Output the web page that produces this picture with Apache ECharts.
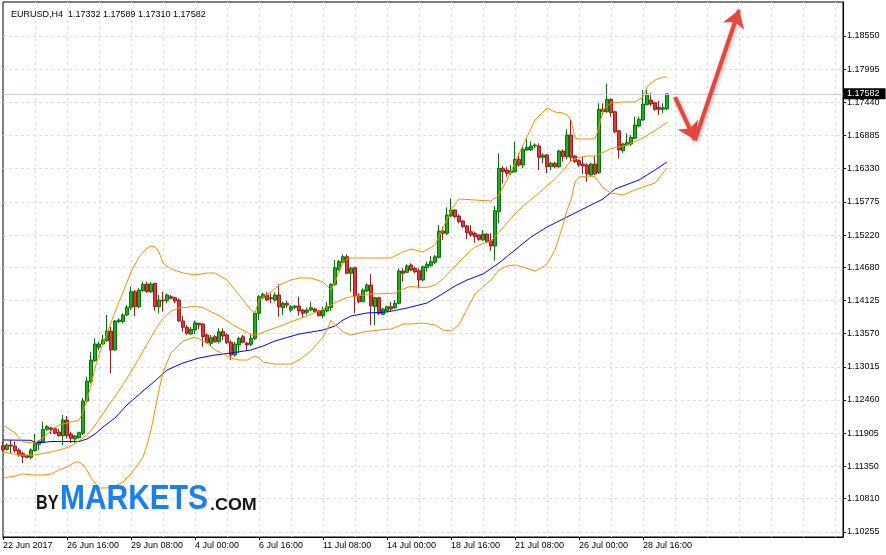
<!DOCTYPE html>
<html>
<head>
<meta charset="utf-8">
<script src="https://cdn.jsdelivr.net/npm/echarts@6/dist/echarts.min.js"></script>
<style>
html,body{margin:0;padding:0;background:#fff;}
#chart{width:886px;height:555px;}
</style>
</head>
<body>
<div id="chart"></div>
<script>
// ---------- data ----------
const symbolName = 'EURUSD,H4';
const xTickLabels = ['22 Jun 2017','26 Jun 16:00','29 Jun 08:00','4 Jul 00:00','6 Jul 16:00','11 Jul 08:00','14 Jul 00:00','18 Jul 16:00','21 Jul 08:00','26 Jul 00:00','28 Jul 16:00'];
const yTickLabels = ['1.10255','1.10810','1.11350','1.11905','1.12460','1.13015','1.13570','1.14125','1.14680','1.15220','1.15775','1.16330','1.16885','1.17440','1.17995','1.18550'];

const openP = [1.11695,1.11635,1.11707,1.11690,1.11624,1.11562,1.11528,1.11501,1.11612,1.11719,
1.11762,1.11970,1.11992,1.11980,1.11925,1.11863,1.12125,1.11891,1.11808,1.11829,
1.11903,1.12443,1.12766,1.13118,1.13342,1.13397,1.13452,1.13614,1.13297,1.13770,
1.13770,1.13882,1.14011,1.14272,1.14021,1.14289,1.14401,1.14272,1.14412,1.14021,
1.14133,1.14121,1.14188,1.14172,1.14133,1.13782,1.13676,1.13564,1.13631,1.13743,
1.13732,1.13548,1.13409,1.13519,1.13435,1.13603,1.13548,1.13425,1.13213,1.13380,
1.13519,1.13409,1.13392,1.13492,1.13911,1.14178,1.14217,1.14172,1.14133,1.14217,
1.14004,1.14078,1.13966,1.14011,1.14033,1.13966,1.13927,1.13966,1.13982,1.13954,
1.13870,1.13949,1.14004,1.14396,1.14647,1.14764,1.14857,1.14580,1.14673,1.14217,
1.14105,1.14284,1.14384,1.14021,1.14172,1.13894,1.13949,1.14021,1.14004,1.14078,
1.14618,1.14596,1.14719,1.14663,1.14623,1.14468,1.14673,1.14707,1.14763,1.14847,
1.15287,1.15249,1.15538,1.15639,1.15538,1.15455,1.15371,1.15276,1.15249,1.15221,
1.15137,1.15237,1.15125,1.15036,1.15610,1.16336,1.16308,1.16263,1.16280,1.16487,
1.16392,1.16643,1.16643,1.16709,1.16709,1.16520,1.16559,1.16363,1.16420,1.16363,
1.16626,1.16530,1.16894,1.16542,1.16464,1.16408,1.16392,1.16224,1.16408,1.16263,
1.17323,1.17283,1.17491,1.17283,1.16965,1.16631,1.16726,1.16743,1.16838,1.17044,
1.17144,1.17400,1.17479,1.17434,1.17357,1.17323,1.17332];

const closeP = [1.11624,1.11707,1.11690,1.11612,1.11540,1.11511,1.11501,1.11624,1.11736,1.11774,
1.11970,1.12013,1.11970,1.11903,1.11863,1.12125,1.11863,1.11819,1.11858,1.11913,
1.12443,1.12778,1.13129,1.13397,1.13397,1.13464,1.13614,1.13297,1.13782,1.13798,
1.13882,1.14011,1.14272,1.14021,1.14300,1.14396,1.14272,1.14401,1.14021,1.14133,
1.14116,1.14217,1.14161,1.14116,1.13782,1.13676,1.13576,1.13643,1.13753,1.13715,
1.13519,1.13419,1.13502,1.13435,1.13603,1.13531,1.13419,1.13213,1.13397,1.13492,
1.13425,1.13380,1.13492,1.13911,1.14188,1.14228,1.14133,1.14155,1.14217,1.14021,
1.14078,1.14049,1.14021,1.14033,1.13949,1.13911,1.13966,1.14004,1.13937,1.13870,
1.13966,1.14021,1.14396,1.14673,1.14774,1.14857,1.14580,1.14663,1.14200,1.14105,
1.14300,1.14384,1.14038,1.14172,1.13911,1.13982,1.14021,1.13982,1.14078,1.14618,
1.14580,1.14702,1.14635,1.14607,1.14468,1.14690,1.14730,1.14774,1.14857,1.15287,
1.15249,1.15555,1.15639,1.15527,1.15443,1.15359,1.15259,1.15221,1.15192,1.15149,
1.15237,1.15108,1.15036,1.15627,1.16336,1.16280,1.16253,1.16296,1.16487,1.16392,
1.16654,1.16688,1.16709,1.16726,1.16520,1.16559,1.16363,1.16420,1.16363,1.16626,
1.16530,1.16894,1.16520,1.16447,1.16392,1.16375,1.16241,1.16408,1.16241,1.17323,
1.17283,1.17491,1.17267,1.16949,1.16643,1.16743,1.16765,1.16855,1.17061,1.17156,
1.17412,1.17579,1.17412,1.17323,1.17323,1.17350,1.17582];

const highP = [1.11762,1.11736,1.11791,1.11762,1.11652,1.11595,1.11540,1.11652,1.11891,1.11791,
1.12097,1.12042,1.12013,1.12003,1.11980,1.12209,1.12192,1.11930,1.11874,1.11930,
1.12493,1.12850,1.13268,1.13492,1.13435,1.13548,1.13882,1.13686,1.13798,1.13827,
1.13911,1.14049,1.14356,1.14300,1.14329,1.14439,1.14439,1.14434,1.14422,1.14217,
1.14272,1.14245,1.14217,1.14188,1.14161,1.13865,1.13715,1.13686,1.13787,1.13753,
1.13743,1.13576,1.13548,1.13548,1.13660,1.13660,1.13576,1.13464,1.13435,1.13519,
1.13548,1.13435,1.13548,1.13937,1.14217,1.14255,1.14262,1.14245,1.14262,1.14396,
1.14105,1.14116,1.14049,1.14049,1.14188,1.13982,1.14004,1.14105,1.14004,1.13966,
1.14021,1.14105,1.14412,1.14802,1.14802,1.14898,1.14898,1.14690,1.14690,1.14245,
1.14329,1.14412,1.14563,1.14188,1.14188,1.14004,1.14038,1.14105,1.14133,1.14663,
1.14663,1.14730,1.14747,1.14690,1.14663,1.14707,1.14774,1.14869,1.14886,1.15388,
1.15359,1.15684,1.15834,1.15650,1.15567,1.15472,1.15388,1.15388,1.15276,1.15232,
1.15304,1.15249,1.15249,1.15706,1.16587,1.16375,1.16363,1.16392,1.16781,1.16587,
1.16698,1.16838,1.16781,1.16755,1.16755,1.16587,1.16576,1.16447,1.16447,1.16643,
1.16654,1.16989,1.17144,1.16559,1.16487,1.16530,1.16420,1.16430,1.16542,1.17424,
1.17424,1.17758,1.17507,1.17300,1.16977,1.16765,1.16922,1.16894,1.17200,1.17200,
1.17646,1.17646,1.17601,1.17451,1.17467,1.17424,1.17589];

const lowP = [1.11595,1.11612,1.11557,1.11578,1.11511,1.11401,1.11485,1.11468,1.11595,1.11624,
1.11746,1.11946,1.11891,1.11891,1.11846,1.11707,1.11819,1.11736,1.11736,1.11819,
1.11874,1.12410,1.12739,1.13101,1.13297,1.13380,1.13435,1.12907,1.13285,1.13743,
1.13743,1.13865,1.13966,1.13865,1.13994,1.14272,1.14255,1.14250,1.13954,1.13911,
1.13937,1.14078,1.14145,1.14078,1.13770,1.13603,1.13548,1.13548,1.13564,1.13648,
1.13352,1.13409,1.13363,1.13419,1.13409,1.13464,1.13397,1.13129,1.13184,1.13241,
1.13409,1.13285,1.13363,1.13464,1.13798,1.14145,1.14116,1.14078,1.14105,1.13854,
1.13882,1.14004,1.13927,1.13982,1.13870,1.13837,1.13882,1.13949,1.13927,1.13860,
1.13827,1.13927,1.13949,1.14372,1.14618,1.14747,1.14563,1.14272,1.13911,1.14078,
1.14095,1.14262,1.13715,1.13715,1.13882,1.13882,1.13927,1.13949,1.13982,1.14061,
1.14439,1.14580,1.14618,1.14580,1.14329,1.14439,1.14607,1.14690,1.14735,1.14831,
1.15137,1.15221,1.15517,1.15500,1.15416,1.15343,1.15149,1.15192,1.15092,1.15125,
1.15125,1.15092,1.14958,1.14791,1.15416,1.16085,1.16196,1.16224,1.16263,1.16363,
1.16336,1.16631,1.16631,1.16671,1.16308,1.16420,1.16253,1.16308,1.16336,1.16336,
1.16447,1.16487,1.16447,1.16430,1.16363,1.16241,1.16112,1.16196,1.16224,1.16241,
1.17228,1.17267,1.17200,1.16922,1.16504,1.16597,1.16709,1.16709,1.16822,1.17022,
1.17133,1.17390,1.17379,1.17300,1.17228,1.17257,1.17310];

// indicator lines: [bar, price]
const upperBand = [[0,1.12042],[3,1.11908],[5,1.11757],[8,1.11741],[10,1.11824],[12,1.11941],[14,1.12042],[17,1.12092],[19,1.12125],[20,1.12259],[21,1.12460],[22,1.12711],[23,1.12995],[24,1.13213],[26,1.13581],[28,1.13932],[30,1.14267],[32,1.14601],[34,1.14852],[36,1.15003],[37,1.15036],[38,1.15020],[39,1.14936],[40,1.14752],[42,1.14652],[45,1.14585],[48,1.14551],[51,1.14585],[53,1.14585],[56,1.14468],[58,1.14300],[60,1.14133],[62,1.13966],[63,1.13916],[64,1.14133],[65,1.14183],[68,1.14317],[69,1.14384],[72,1.14468],[74,1.14501],[77,1.14501],[80,1.14434],[82,1.14300],[83,1.14434],[84,1.14601],[85,1.14769],[86,1.14819],[87,1.14836],[90,1.14836],[94,1.14836],[97,1.14836],[99,1.14903],[100,1.14936],[102,1.14986],[104,1.14953],[105,1.14936],[108,1.15053],[110,1.15338],[112,1.15639],[114,1.15823],[118,1.15806],[122,1.15789],[124,1.15890],[126,1.16141],[128,1.16425],[130,1.16726],[131,1.16860],[133,1.17144],[136,1.17345],[138,1.17278],[140,1.17262],[141,1.17228],[142,1.17144],[143,1.16843],[144,1.16827],[148,1.16827],[149,1.17027],[150,1.17312],[152,1.17429],[155,1.17446],[158,1.17446],[160,1.17529],[161,1.17697],[163,1.17814],[165,1.17864],[166,1.17864]];

const middleBand = [[0,1.11590],[4,1.11540],[8,1.11540],[12,1.11590],[15,1.11640],[17,1.11690],[19,1.11781],[20,1.11821],[22,1.11946],[24,1.12129],[26,1.12333],[28,1.12519],[30,1.12716],[32,1.12930],[34,1.13158],[36,1.13392],[38,1.13629],[40,1.13824],[42,1.13947],[44,1.14003],[46,1.14011],[48,1.14028],[50,1.14004],[52,1.13937],[54,1.13872],[56,1.13787],[58,1.13696],[60,1.13629],[62,1.13554],[64,1.13564],[66,1.13619],[68,1.13668],[70,1.13711],[72,1.13770],[74,1.13817],[76,1.13864],[78,1.13929],[80,1.13976],[82,1.14053],[84,1.14120],[86,1.14173],[88,1.14198],[90,1.14213],[92,1.14232],[94,1.14237],[96,1.14243],[98,1.14248],[100,1.14317],[102,1.14362],[104,1.14344],[106,1.14344],[108,1.14382],[110,1.14488],[112,1.14627],[114,1.14770],[116,1.14903],[118,1.15020],[120,1.15078],[122,1.15120],[124,1.15264],[126,1.15420],[128,1.15577],[130,1.15702],[132,1.15813],[134,1.15927],[136,1.16042],[138,1.16161],[140,1.16298],[142,1.16462],[144,1.16517],[146,1.16542],[148,1.16542],[150,1.16601],[152,1.16668],[154,1.16693],[156,1.16726],[158,1.16785],[160,1.16843],[162,1.16927],[164,1.17011],[166,1.17106]];

const lowerBand = [[0,1.11155],[3,1.11189],[5,1.11222],[8,1.11205],[10,1.11205],[12,1.11222],[14,1.11289],[16,1.11339],[18,1.11423],[19,1.11423],[20,1.11373],[21,1.11289],[22,1.11155],[24,1.10988],[26,1.10988],[28,1.11021],[30,1.11088],[32,1.11222],[34,1.11406],[35,1.11506],[36,1.11707],[37,1.11958],[38,1.12293],[39,1.12627],[40,1.12928],[42,1.13246],[45,1.13447],[48,1.13514],[51,1.13414],[53,1.13297],[55,1.13230],[57,1.13163],[59,1.13129],[61,1.13129],[63,1.13196],[64,1.13163],[65,1.13096],[68,1.13062],[72,1.13062],[74,1.13129],[77,1.13280],[80,1.13514],[81,1.13631],[82,1.13798],[83,1.13715],[84,1.13665],[85,1.13598],[87,1.13547],[90,1.13598],[94,1.13631],[97,1.13648],[99,1.13698],[100,1.13732],[102,1.13732],[105,1.13748],[108,1.13715],[110,1.13631],[112,1.13614],[114,1.13715],[116,1.13982],[118,1.14233],[120,1.14351],[122,1.14468],[124,1.14635],[126,1.14702],[128,1.14719],[130,1.14685],[133,1.14618],[135,1.14685],[136,1.14735],[138,1.14970],[140,1.15388],[141,1.15639],[142,1.15806],[143,1.16107],[144,1.16191],[147,1.16208],[148,1.16191],[149,1.16107],[150,1.16007],[152,1.15923],[155,1.15890],[158,1.15973],[160,1.16024],[163,1.16090],[166,1.16341]];

const movingAvg = [[0,1.11791],[7,1.11786],[8,1.11749],[10,1.11749],[12,1.11766],[19,1.11766],[21,1.11808],[23,1.11891],[25,1.12008],[28,1.12159],[31,1.12376],[33,1.12493],[35,1.12611],[38,1.12778],[41,1.12962],[45,1.13079],[49,1.13163],[53,1.13213],[57,1.13246],[62,1.13297],[65,1.13363],[68,1.13447],[74,1.13564],[80,1.13631],[83,1.13698],[85,1.13798],[87,1.13865],[91,1.13916],[96,1.13932],[101,1.13999],[106,1.14083],[109,1.14200],[113,1.14367],[116,1.14468],[120,1.14568],[124,1.14752],[128,1.14970],[132,1.15187],[136,1.15354],[141,1.15522],[146,1.15689],[150,1.15823],[153,1.15990],[159,1.16141],[163,1.16308],[166,1.16442]];

// hand-drawn forecast arrows: [bar, price] start/end
const arrowDown = [[168, 1.17529], [173, 1.16810]];
const arrowUp = [[173, 1.16810], [184, 1.18985]];

// ---------- chart ----------
const slots = 211;          // bar slots across the plot (incl. empty right margin)
const barsPerLabel = 16;
const cats = Array.from({length: slots}, (_, i) => String(i));
const last = openP.length - 1;
const candles = openP.map((o, i) => [o, closeP[i], lowP[i], highP[i]]);
const yTicks = yTickLabels.map(Number);
const FONT = '"Liberation Sans", Arial, sans-serif';
const gridCol = '#d9d9ef';

const chart = echarts.init(document.getElementById('chart'), null, {renderer: 'canvas'});
const bandLine = (name, data, color) => ({
  name, type: 'line', data, showSymbol: false, symbol: 'none', silent: true,
  lineStyle: {color, width: 1}, z: 4, animation: false
});
const arrowStyle = {color: '#e5473e', width: 4, type: 'solid', shadowBlur: 4, shadowColor: 'rgba(0,0,0,0.35)', shadowOffsetX: 1, shadowOffsetY: 1};

chart.setOption({
  animation: false,
  backgroundColor: '#ffffff',
  title: {
    text: symbolName + '  ' + [openP[last], highP[last], lowP[last], closeP[last]].map(v => v.toFixed(5)).join(' '),
    left: 6, top: 5,
    textStyle: {fontSize: 9, fontWeight: 'normal', color: '#000', fontFamily: FONT}
  },
  grid: {left: 2, right: 43, top: 2, bottom: 18, show: true, borderColor: '#000', borderWidth: 1, backgroundColor: '#fff'},
  xAxis: {
    type: 'category', data: cats, boundaryGap: false,
    axisLine: {show: true, lineStyle: {color: '#000', width: 1}},
    axisTick: {show: true, length: 3, lineStyle: {color: '#000'},
      interval: (idx) => idx % barsPerLabel === 0 && idx / barsPerLabel < xTickLabels.length},
    axisLabel: {
      interval: (idx) => idx % barsPerLabel === 0 && idx / barsPerLabel < xTickLabels.length,
      formatter: (v, idx) => xTickLabels[Number(v) / barsPerLabel] || '',
      align: 'left', margin: 4, fontSize: 9, color: '#000', fontFamily: FONT
    },
    splitLine: {show: true, interval: (idx) => idx % 8 === 0 && idx > 0, lineStyle: {color: gridCol, type: [3, 3], width: 1}}
  },
  yAxis: {
    type: 'value', position: 'right', min: 1.10168, max: 1.19119,
    axisLine: {show: true, lineStyle: {color: '#000', width: 1}},
    axisTick: {show: true, length: 3, customValues: yTicks, lineStyle: {color: '#000'}},
    axisLabel: {customValues: yTicks, formatter: (v) => v.toFixed(5), margin: 4, fontSize: 9, color: '#000', fontFamily: FONT},
    splitLine: {show: true, lineStyle: {color: gridCol, type: [3, 3], width: 1}}
  },
  series: [
    {
      name: symbolName, type: 'candlestick', data: candles, barWidth: 3, z: 3,
      itemStyle: {color: '#1fb01f', color0: '#dc3a3a', borderColor: '#0b6d0b', borderColor0: '#9c1c1c', borderWidth: 1},
      markLine: {
        silent: true, symbol: 'none', animation: false, precision: 5,
        data: [
          {yAxis: closeP[last], lineStyle: {color: '#c9c9f2', width: 1, type: 'solid'},
           label: {show: true, position: 'end', distance: 1, formatter: () => closeP[last].toFixed(5),
             backgroundColor: '#000', color: '#fff', padding: [1, 6, 1, 3], fontSize: 9, fontFamily: FONT}},
          [
            {coord: arrowDown[0], symbol: 'none', lineStyle: arrowStyle, label: {show: false}},
            {coord: arrowDown[1], symbol: 'arrow', symbolSize: 17}
          ],
          [
            {coord: arrowUp[0], symbol: 'none', lineStyle: arrowStyle, label: {show: false}},
            {coord: arrowUp[1], symbol: 'arrow', symbolSize: 17}
          ]
        ]
      }
    },
    bandLine('MA', movingAvg, '#0000ff'),
    bandLine('BB upper', upperBand, '#ff8c00'),
    bandLine('BB middle', middleBand, '#ff8c00'),
    bandLine('BB lower', lowerBand, '#ff8c00')
  ],
  graphic: [
    {type: 'text', x: 36, y: 504, scaleX: 0.83, z: 100, silent: true,
     style: {text: 'BY', font: 'bold 19.5px ' + FONT, fill: '#151515', verticalAlign: 'middle',
       shadowBlur: 3, shadowColor: 'rgba(0,0,0,0.35)', shadowOffsetX: 1, shadowOffsetY: 1}},
    {type: 'text', x: 60, y: 499, scaleX: 0.855, z: 100, silent: true,
     style: {text: 'MARKETS', font: 'bold 35px ' + FONT, fill: '#1a7ff0', verticalAlign: 'middle',
       shadowBlur: 3, shadowColor: 'rgba(0,0,0,0.4)', shadowOffsetX: 1, shadowOffsetY: 1}},
    {type: 'text', x: 210, y: 505.5, scaleX: 1.12, z: 100, silent: true,
     style: {text: '.COM', font: 'bold 16px ' + FONT, fill: '#151515', verticalAlign: 'middle',
       shadowBlur: 3, shadowColor: 'rgba(0,0,0,0.35)', shadowOffsetX: 1, shadowOffsetY: 1}}
  ]
});
</script>
</body>
</html>
